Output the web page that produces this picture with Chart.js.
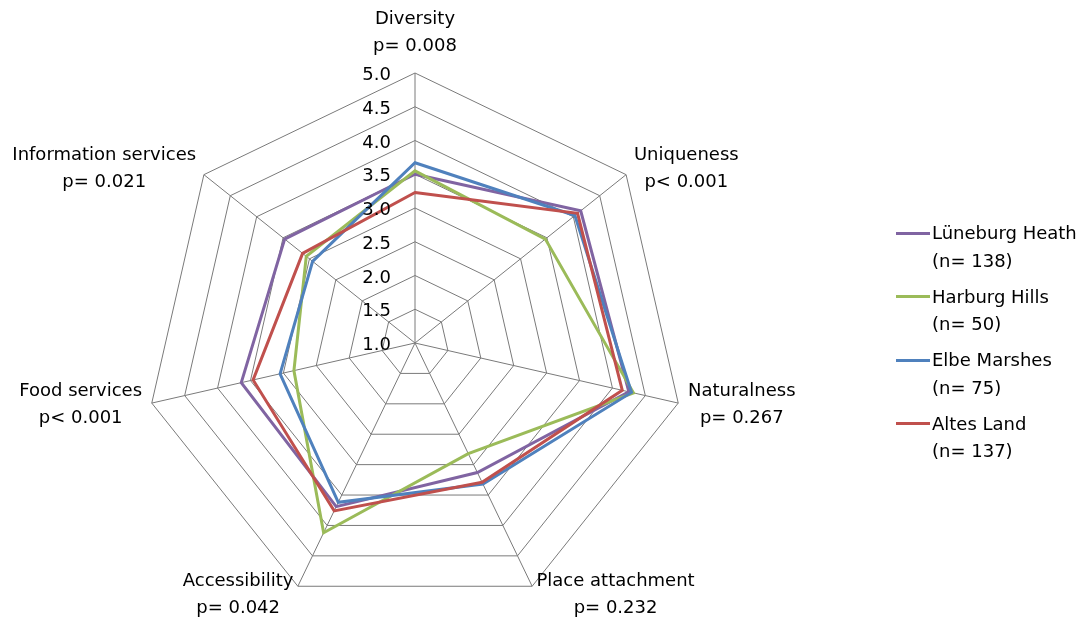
<!DOCTYPE html>
<html><head><meta charset="utf-8">
<script src="https://cdn.jsdelivr.net/npm/chart.js@4.4.0/dist/chart.umd.min.js"></script>
<style>
html,body{margin:0;padding:0;background:#fff;}
#wrap{position:relative;width:1080px;height:617px;overflow:hidden;}
#legend{position:absolute;left:896px;top:219px;font-family:'DejaVu Sans',sans-serif;font-size:18px;color:#000;}
.item{position:relative;height:63.5px;}
.item .sw{position:absolute;left:0;top:12.5px;width:34px;height:3px;}
.item .tx{position:absolute;left:36px;top:0;line-height:27.5px;white-space:nowrap;}
</style></head>
<body><div id="wrap"><canvas id="c" width="1080" height="617"></canvas><div id="legend"></div></div>
<script>
const categories = [
  ["Diversity", "p= 0.008"],
  ["Uniqueness", "p< 0.001"],
  ["Naturalness", "p= 0.267"],
  ["Place attachment", "p= 0.232"],
  ["Accessibility", "p= 0.042"],
  ["Food services", "p< 0.001"],
  ["Information services", "p= 0.021"]
];
const seriesNames = ["Lüneburg Heath", "Harburg Hills", "Elbe Marshes", "Altes Land"];
const seriesN = ["(n= 138)", "(n= 50)", "(n= 75)", "(n= 137)"];
const seriesColors = ["#8064A2", "#9BBB59", "#4F81BD", "#C0504D"];
const luneburgHeath = [3.50, 4.14, 4.25, 3.13, 3.69, 3.64, 3.47];
const harburgHills  = [3.55, 3.47, 4.32, 2.82, 4.12, 2.84, 3.06];
const elbeMarshes   = [3.67, 4.03, 4.29, 3.32, 3.62, 3.05, 2.94];
const altesLand     = [3.23, 4.08, 4.15, 3.29, 3.76, 3.46, 3.13];
const tickLabels = ["1.0", "1.5", "2.0", "2.5", "3.0", "3.5", "4.0", "4.5", "5.0"];
const tickValues = [1.0, 1.5, 2.0, 2.5, 3.0, 3.5, 4.0, 4.5, 5.0];

const seriesValues = [luneburgHeath, harburgHills, elbeMarshes, altesLand];
const FONT = '"DejaVu Sans", sans-serif';

const labelPlugin = {
  id: 'labelPlugin',
  afterDatasetsDraw(chart) {
    const ctx = chart.ctx;
    const scale = chart.scales.r;
    const R = scale.drawingArea;
    ctx.save();
    ctx.fillStyle = '#000';
    // tick labels
    ctx.font = '18px ' + FONT;
    ctx.textAlign = 'right';
    ctx.textBaseline = 'middle';
    tickValues.forEach((v, i) => {
      const p = scale.getPointPositionForValue(0, v);
      ctx.fillText(tickLabels[i], scale.xCenter - 24, p.y + 2.5);
    });
    // point labels
    ctx.font = '18px ' + FONT;
    const lh = 27;
    categories.forEach((lines, i) => {
      const w = Math.max(...lines.map(t => ctx.measureText(t).width));
      if (i === 0) {
        const p = scale.getPointPosition(i, R + 13);
        ctx.textAlign = 'center';
        lines.forEach((t, k) => ctx.fillText(t, p.x, p.y - (lines.length - k - 0.5) * lh));
      } else {
        const p = scale.getPointPosition(i, R + 10);
        const cx = p.x > scale.xCenter ? p.x + w / 2 : p.x - w / 2;
        ctx.textAlign = 'center';
        lines.forEach((t, k) => ctx.fillText(t, cx, p.y + (k - (lines.length - 1) / 2) * lh));
      }
    });
    ctx.restore();
  }
};

new Chart(document.getElementById('c'), {
  type: 'radar',
  data: {
    labels: categories,
    datasets: seriesNames.map((name, i) => ({
      label: name,
      data: seriesValues[i],
      borderColor: seriesColors[i],
      backgroundColor: 'transparent',
      borderWidth: 3,
      pointRadius: 0,
      pointHoverRadius: 0,
      fill: false,
      tension: 0,
      order: seriesNames.length - 1 - i
    }))
  },
  options: {
    responsive: false,
    animation: false,
    devicePixelRatio: 1,
    layout: { padding: { left: 145, right: 395, top: 73, bottom: 4 } },
    plugins: { legend: { display: false }, tooltip: { enabled: false } },
    scales: {
      r: {
        min: 1, max: 5,
        ticks: { stepSize: 0.5, display: false },
        pointLabels: { display: false },
        grid: { color: '#7a7a7a', lineWidth: 1 },
        angleLines: { color: '#7a7a7a', lineWidth: 1 }
      }
    }
  },
  plugins: [labelPlugin]
});

const legend = document.getElementById('legend');
seriesNames.forEach((name, i) => {
  const it = document.createElement('div');
  it.className = 'item';
  it.innerHTML = '<div class="sw" style="background:' + seriesColors[i] + '"></div><div class="tx">' + name + '<br>' + seriesN[i] + '</div>';
  legend.appendChild(it);
});
</script>
</body></html>
